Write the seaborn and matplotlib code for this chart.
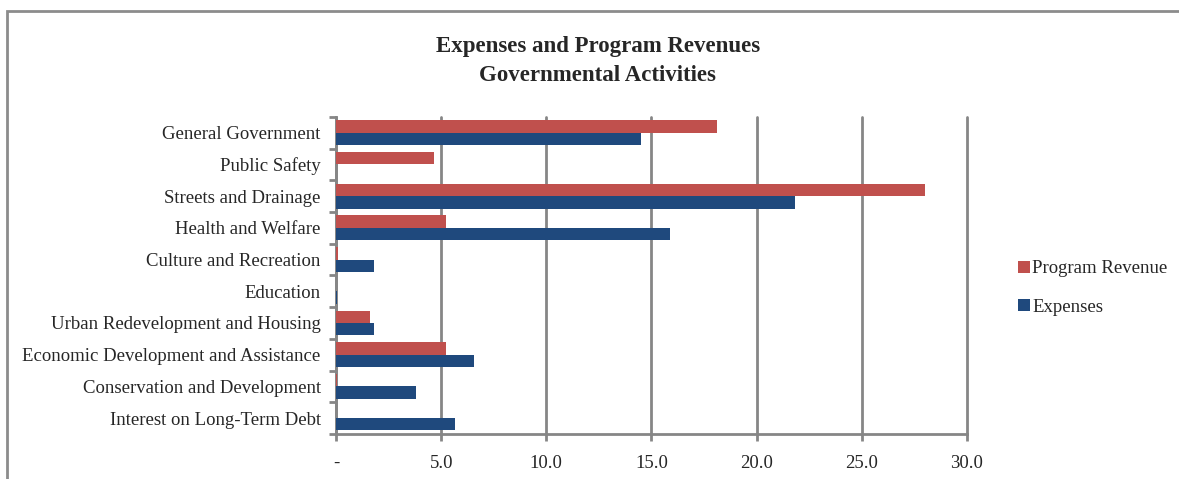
import numpy as np
import pandas as pd
import matplotlib
matplotlib.use('Agg')
import matplotlib.pyplot as plt
import matplotlib.ticker as mticker
from matplotlib.patches import Rectangle
import seaborn as sns

# values (millions)
categories = ['General Government', 'Public Safety', 'Streets and Drainage',
              'Health and Welfare', 'Culture and Recreation', 'Education',
              'Urban Redevelopment and Housing', 'Economic Development and Assistance',
              'Conservation and Development', 'Interest on Long-Term Debt']
program_revenue = [18.1, 4.65, 28.0, 5.25, 0.1, 0.0, 1.6, 5.25, 0.05, 0.0]
expenses = [14.5, 0.0, 21.85, 15.9, 1.8, 0.05, 1.8, 6.55, 3.8, 5.65]
series = ['Program Revenue', 'Expenses']
x_ticks = [0, 5, 10, 15, 20, 25, 30]
x_tick_labels = ['-', '5.0', '10.0', '15.0', '20.0', '25.0', '30.0']

df = pd.DataFrame({
    'Category': categories * 2,
    'Series': [series[0]] * len(categories) + [series[1]] * len(categories),
    'Value': program_revenue + expenses,
})

sns.set_style('white')
plt.rcParams['font.family'] = ['Liberation Serif', 'DejaVu Serif']

fig = plt.figure(figsize=(11.79, 4.79), dpi=100)
ax = fig.add_axes([0.285, 0.094, 0.535, 0.662])

palette = {'Program Revenue': '#C0504D', 'Expenses': '#1F497D'}
sns.barplot(data=df, x='Value', y='Category', hue='Series', hue_order=series,
            order=categories, palette=palette, orient='h', width=0.78,
            saturation=1, linewidth=0, ax=ax, zorder=3)

ax.set_xlim(0, 30)
ax.set_xticks(x_ticks)
ax.set_xticklabels(x_tick_labels, fontsize=13.5)
ax.set_xlabel('')
ax.set_ylabel('')
ax.tick_params(axis='y', which='major', labelsize=13.5, length=0, pad=11)
ax.tick_params(axis='x', which='major', bottom=True, length=5, width=2,
               color='#868686', pad=10)

# Excel-style tick marks between categories
ax.yaxis.set_minor_locator(mticker.FixedLocator(np.arange(-0.5, len(categories), 1)))
ax.tick_params(axis='y', which='minor', left=True, length=5, width=2, color='#868686')

ax.set_axisbelow(True)
ax.grid(axis='x', color='#868686', linewidth=2)
ax.grid(axis='y', visible=False)
for line in ax.get_xgridlines():
    line.set_clip_on(False)
for side in ['top', 'right']:
    ax.spines[side].set_visible(False)
for side in ['left', 'bottom']:
    ax.spines[side].set_color('#868686')
    ax.spines[side].set_linewidth(2)

handles, labels = ax.get_legend_handles_labels()
ax.legend(handles, labels, loc='center left', bbox_to_anchor=(1.055, 0.46),
          frameon=False, fontsize=13.5, handlelength=0.6, handleheight=0.6,
          handletextpad=0.15, labelspacing=1.15)

fig.text(0.507, 0.872, 'Expenses and Program Revenues\nGovernmental Activities',
         ha='center', va='center', fontsize=16.5, fontweight='bold', linespacing=1.5)

# outer chart border
fig.patches.append(Rectangle((0.006, -0.1), 1.2, 1.077, transform=fig.transFigure,
                             fill=False, edgecolor='#8C8C8C', linewidth=2))

fig.savefig('out.png', dpi=100)
